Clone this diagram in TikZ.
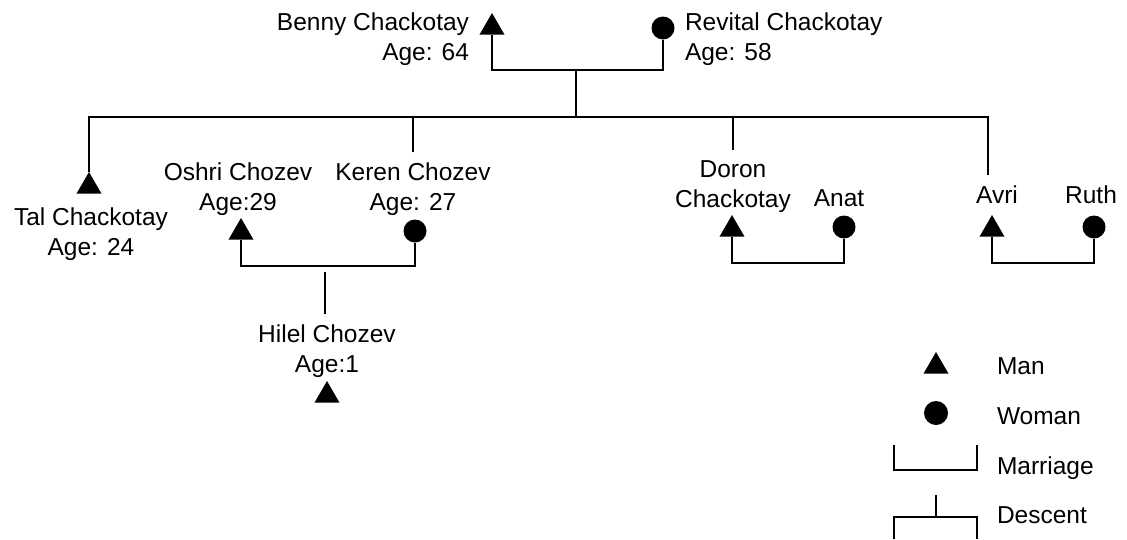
\documentclass[tikz,border=0pt]{standalone}
\usepackage{fontspec}
\setmainfont{Liberation Sans}
\usetikzlibrary{shapes.geometric}
\begin{document}
\begin{tikzpicture}[x=1pt,y=-1pt,line width=2pt,
  man/.style={regular polygon,regular polygon sides=3,fill=black,inner sep=0pt,outer sep=0pt,minimum size=28.9pt,anchor=north},
  woman/.style={circle,fill=black,inner sep=0pt,outer sep=0pt,minimum size=23pt},
  lbl/.style={inner sep=0pt,outer sep=0pt,font=\fontsize{24.5}{29.5}\selectfont,text=black},
  conn/.style={outer ysep=11pt}]
\useasboundingbox (0,0) rectangle (1127,539);
% grandparents
\node[man] (benny) at (492,13) {};
\node[woman] (revital) at (663,28) {};
\node[lbl,align=right,anchor=north east] (bennylbl) at (469,13) {Benny Chackotay\\Age: 64};
\node[lbl,align=left,anchor=north west] (revitallbl) at (685,13) {Revital Chackotay\\Age: 58};
\coordinate (m1) at (576,70);
\coordinate (d1) at (576,117);
\draw (benny.south) |- (m1) -| (revital.south);
\draw (m1) -- (d1);
% Tal
\node[man] (tal) at (89,172) {};
\node[lbl,align=center,anchor=north] (tallbl) at (91,208) {Tal Chackotay\\Age: 24};
% Oshri & Keren
\node[lbl,align=center,anchor=north] (oshrilbl) at (238,163) {Oshri Chozev\\Age:29};
\node[lbl,conn,align=center,anchor=north] (kerenlbl) at (413,152) {Keren Chozev\\Age: 27};
\node[man] (oshri) at (241,218) {};
\node[woman] (keren) at (415,231) {};
\coordinate (m2) at (325,266);
\draw (oshri.south) |- (m2) -| (keren.south);
\coordinate (h1) at (325,272);
\node[lbl,conn,align=center,anchor=north] (hilellbl) at (327,314) {Hilel Chozev\\Age:1};
\draw (h1) -- (h1 |- hilellbl.north);
\node[man] (hilel) at (327,381) {};
% Doron & Anat
\coordinate (dtop) at (733,117);
\node[lbl,conn,align=center,anchor=north] (doronlbl) at (733,150) {Doron\\Chackotay};
\draw (dtop) -- (doronlbl.north);
\node[lbl,anchor=north] (anatlbl) at (839,189.5) {Anat};
\node[man] (doron) at (732,215) {};
\node[woman] (anat) at (844,227) {};
\coordinate (m3) at (788,263);
\draw (doron.south) |- (m3) -| (anat.south);
% Avri & Ruth
\coordinate (atop) at (988,117);
\node[lbl,conn,anchor=north] (avrilbl) at (997,175) {Avri};
\node[lbl,anchor=north] (ruthlbl) at (1091,186) {Ruth};
\node[man] (avri) at (992,215) {};
\node[woman] (ruth) at (1094,227) {};
\coordinate (m4) at (1043,263);
\draw (avri.south) |- (m4) -| (ruth.south);
% sibling line
\draw (tal.north) |- (atop) -- (atop |- avrilbl.north);
\draw (kerenlbl.north) -- (kerenlbl.north |- d1);
% legend
\node[man] (legman) at (936,352) {};
\node[woman,minimum size=24pt] (legwoman) at (936,413) {};
\node[lbl,anchor=base west] (manlbl) at (997,374) {Man};
\node[lbl,anchor=base west] (womanlbl) at (997,424) {Woman};
\node[lbl,anchor=base west] (marlbl) at (997,474) {Marriage};
\node[lbl,anchor=base west] (desclbl) at (997,523) {Descent};
\coordinate (ma) at (894,445);
\coordinate (mb) at (977,470);
\coordinate (mc) at (977,445);
\draw (ma) |- (mb) -- (mc);
\coordinate (da) at (936,495);
\coordinate (db) at (936,517);
\coordinate (dl) at (894,539);
\coordinate (dr) at (977,539);
\draw (da) -- (db);
\draw (dl) |- (db) -| (dr);
\end{tikzpicture}
\end{document}
